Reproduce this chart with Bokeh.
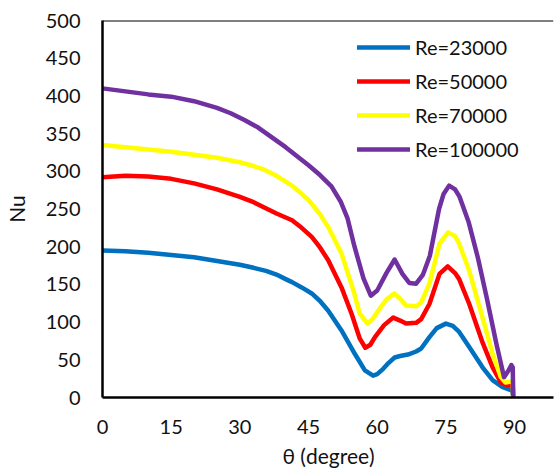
from bokeh.plotting import figure
from bokeh.models import Range1d, FixedTicker, Span, Legend, LegendItem
from bokeh.embed import file_html
from bokeh.resources import INLINE

# Data
theta_23000 = [0, 5, 10, 15, 20, 25, 30, 33, 35.7, 38, 40, 41.4, 43.5, 45.7, 47.5, 49.3, 52.2, 55.1, 57.3, 59.1, 60, 61.3, 62.5, 63.8, 65, 66.7, 68.5, 69.6, 71.4, 73, 75, 76.5, 77.9, 80.1, 83, 85.2, 87.3, 89.5, 89.7]
nu_23000 = [195, 194, 192, 189, 186, 181, 176, 172, 168, 163, 157, 153, 146, 138, 128, 115, 89, 58, 36, 29, 31, 38, 46, 53, 55, 57, 61, 65, 80, 92, 98, 95, 87, 67, 40, 23, 14, 9, 2]

theta_50000 = [0, 5, 10, 15, 20, 25, 30, 33, 35, 38, 41.4, 43.5, 45.7, 47.5, 49.3, 52.2, 54.4, 56.2, 57.4, 58.5, 59.5, 61.5, 63.5, 65, 66.3, 68.5, 69.6, 71.4, 73.6, 75.4, 77, 77.9, 80.1, 83, 85.2, 87, 88.4, 89.6, 89.7]
nu_50000 = [292, 294, 293, 290, 284, 276, 266, 259, 253, 244, 235, 225, 213, 199, 182, 146, 111, 78, 66, 70, 80, 96, 106, 102, 98, 99, 104, 124, 164, 174, 165, 157, 124, 73, 40, 20, 16, 16, 2]

theta_70000 = [0, 5, 10, 15, 20, 25, 30, 33, 35, 38, 41.4, 43.5, 45, 47.5, 49.3, 52.2, 54.8, 56.2, 57.9, 59, 60.2, 62, 63.7, 65, 66.3, 68.5, 69.6, 71.4, 73.6, 75.5, 77, 77.9, 80.1, 83, 85.2, 87, 88, 89, 89.6, 89.7]
nu_70000 = [335, 332, 329, 326, 322, 318, 312, 307, 303, 294, 281, 270, 262, 243, 226, 191, 142, 111, 98, 104, 115, 130, 138, 131, 122, 121, 126, 151, 204, 219, 214, 204, 168, 106, 58, 27, 20, 21, 22, 2]

theta_100000 = [0, 5, 10, 15, 20, 25, 28, 31, 34, 37, 40, 42.5, 45, 47.5, 50, 52, 53.5, 55, 57, 58.6, 60, 62, 63.8, 65.5, 67, 68.5, 70, 71.5, 73.5, 74.5, 75.7, 77, 78, 80, 82, 84, 86, 87.7, 88.7, 89.3, 89.6, 89.7]
nu_100000 = [410, 406, 402, 399, 393, 384, 377, 368, 358, 345, 332, 320, 308, 295, 280, 260, 238, 201, 158, 135, 142, 165, 183, 164, 152, 151, 163, 188, 250, 270, 281, 276, 266, 232, 185, 130, 72, 27, 36, 43, 40, 3]

series_labels = ["Re=23000", "Re=50000", "Re=70000", "Re=100000"]
series_colors = ["#0070C0", "#FF0000", "#FFFF00", "#7030A0"]
x_ticks = [0, 15, 30, 45, 60, 75, 90]
y_ticks = [0, 50, 100, 150, 200, 250, 300, 350, 400, 450, 500]

FONT = "Lato"

p = figure(width=554, height=472, output_backend="svg", toolbar_location=None,
           x_range=Range1d(0, 98.5), y_range=Range1d(0, 500),
           min_border_left=99, min_border_right=1, min_border_top=20, min_border_bottom=75)
p.outline_line_color = None
p.grid.visible = False
p.background_fill_color = "white"
p.border_fill_color = "white"

renderers = []
for xs, ys, c in zip([theta_23000, theta_50000, theta_70000, theta_100000],
                     [nu_23000, nu_50000, nu_70000, nu_100000], series_colors):
    r = p.line(xs, ys, line_color=c, line_width=4.5, line_join="round", line_cap="round")
    renderers.append(r)

p.add_layout(Span(location=500, dimension="width", line_color="black", line_width=2))

for ax in (p.xaxis[0], p.yaxis[0]):
    ax.axis_line_color = "black"
    ax.axis_line_width = 2.5
    ax.major_tick_line_color = None
    ax.minor_tick_line_color = None
    ax.major_tick_out = 0
    ax.major_tick_in = 0
    ax.major_label_text_font = FONT
    ax.major_label_text_font_size = "20px"
    ax.major_label_text_color = "#111111"
    ax.axis_label_text_font = FONT
    ax.axis_label_text_font_size = "21px"
    ax.axis_label_text_font_style = "normal"
    ax.axis_label_text_color = "#111111"

p.xaxis[0].ticker = FixedTicker(ticks=x_ticks)
p.yaxis[0].ticker = FixedTicker(ticks=y_ticks)
p.xaxis[0].axis_label = "θ (degree)"
p.yaxis[0].axis_label = "Nu"
p.xaxis[0].major_label_standoff = 22
p.yaxis[0].major_label_standoff = 22
p.xaxis[0].axis_label_standoff = 6
p.yaxis[0].axis_label_standoff = 14

legend = Legend(items=[LegendItem(label=l, renderers=[r]) for l, r in zip(series_labels, renderers)],
                location=(255, 236))
legend.padding = 0
legend.margin = 0
legend.spacing = 10
legend.glyph_width = 53
legend.glyph_height = 20
legend.label_height = 20
legend.label_standoff = 5
legend.label_text_font = FONT
legend.label_text_font_size = "20px"
legend.label_text_color = "#111111"
legend.border_line_color = None
legend.background_fill_alpha = 0
p.add_layout(legend, "center")

open("out.html", "w").write(file_html(p, INLINE))
